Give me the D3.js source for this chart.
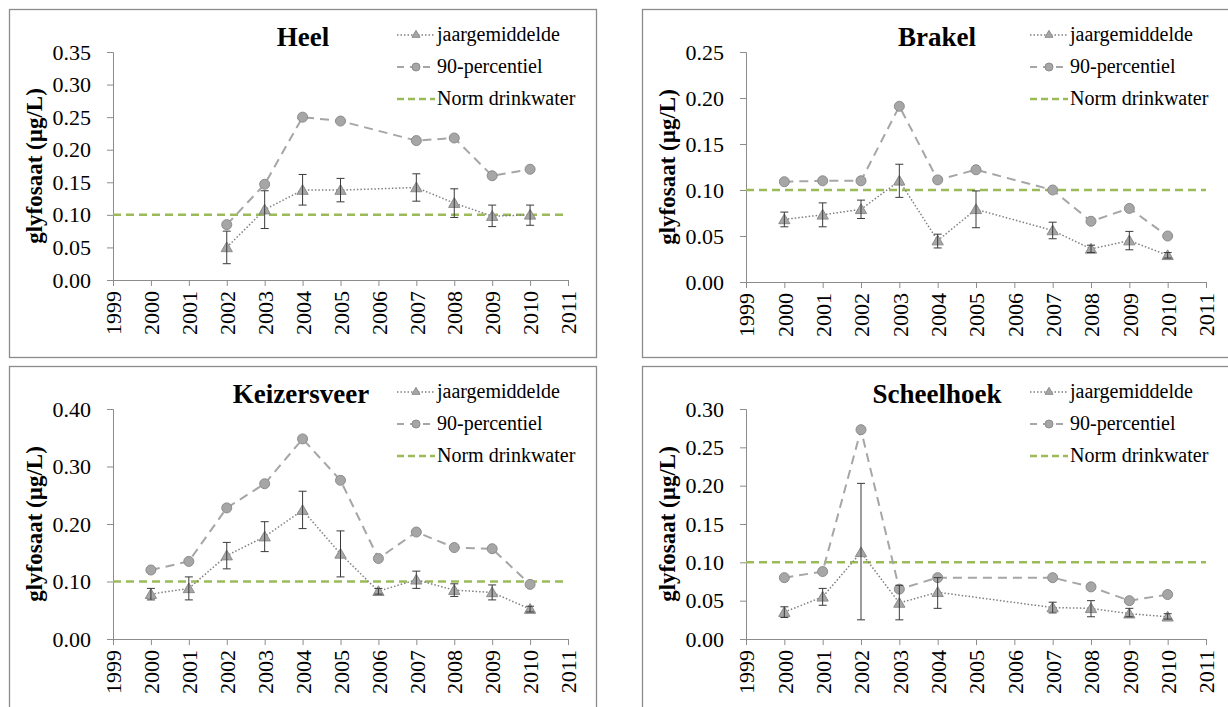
<!DOCTYPE html>
<html lang="nl">
<head>
<meta charset="UTF-8">
<title>Glyfosaat</title>
<script src="https://d3js.org/d3.v7.min.js"></script>
<style>
  html, body { margin: 0; padding: 0; background: #fff; overflow: hidden; }
  #chart, #chart text { font-family: 'Liberation Serif', 'Times New Roman', Times, serif; fill: #000; }
</style>
</head>
<body>
<svg id="chart" width="1228" height="707"></svg>
<script>
// ---- data ----
const xYears = [1999, 2000, 2001, 2002, 2003, 2004, 2005, 2006, 2007, 2008, 2009, 2010, 2011];
const legendLabels = ["jaargemiddelde", "90-percentiel", "Norm drinkwater"];
const normValue = 0.1;
const yLabel = "glyfosaat (µg/L)";

// Heel
const heelYears = [2002, 2003, 2004, 2005, 2007, 2008, 2009, 2010];
const heelMean  = [0.050, 0.108, 0.138, 0.138, 0.142, 0.118, 0.098, 0.100];
const heelLow   = [0.025, 0.079, 0.115, 0.120, 0.121, 0.096, 0.082, 0.084];
const heelHigh  = [0.075, 0.137, 0.162, 0.156, 0.163, 0.140, 0.115, 0.115];
const heelP90   = [0.085, 0.147, 0.250, 0.244, 0.214, 0.218, 0.160, 0.170];
const heelTicks = [0, 0.05, 0.10, 0.15, 0.20, 0.25, 0.30, 0.35];

// Brakel
const brakelYears = [2000, 2001, 2002, 2003, 2004, 2005, 2007, 2008, 2009, 2010];
const brakelMean  = [0.068, 0.073, 0.079, 0.110, 0.045, 0.079, 0.056, 0.036, 0.045, 0.029];
const brakelLow   = [0.060, 0.060, 0.069, 0.092, 0.037, 0.059, 0.047, 0.032, 0.035, 0.026];
const brakelHigh  = [0.076, 0.086, 0.089, 0.128, 0.052, 0.099, 0.065, 0.040, 0.055, 0.032];
const brakelP90   = [0.109, 0.110, 0.110, 0.191, 0.111, 0.122, 0.100, 0.066, 0.080, 0.050];
const brakelTicks = [0, 0.05, 0.10, 0.15, 0.20, 0.25];

// Keizersveer
const keizYears = [2000, 2001, 2002, 2003, 2004, 2005, 2006, 2007, 2008, 2009, 2010];
const keizMean  = [0.078, 0.088, 0.145, 0.178, 0.224, 0.148, 0.083, 0.103, 0.085, 0.081, 0.052];
const keizLow   = [0.068, 0.068, 0.122, 0.152, 0.192, 0.108, 0.078, 0.088, 0.074, 0.068, 0.047];
const keizHigh  = [0.088, 0.108, 0.168, 0.204, 0.257, 0.188, 0.088, 0.118, 0.096, 0.094, 0.057];
const keizP90   = [0.120, 0.135, 0.228, 0.270, 0.348, 0.276, 0.140, 0.186, 0.159, 0.157, 0.095];
const keizTicks = [0, 0.10, 0.20, 0.30, 0.40];

// Scheelhoek
const scheelYears = [2000, 2001, 2002, 2003, 2004, 2007, 2008, 2009, 2010];
const scheelMean  = [0.035, 0.055, 0.113, 0.047, 0.061, 0.041, 0.040, 0.033, 0.029];
const scheelLow   = [0.028, 0.044, 0.025, 0.025, 0.040, 0.034, 0.029, 0.029, 0.026];
const scheelHigh  = [0.042, 0.066, 0.203, 0.070, 0.080, 0.048, 0.050, 0.040, 0.033];
const scheelP90   = [0.080, 0.088, 0.273, 0.065, 0.080, 0.080, 0.068, 0.050, 0.058];
const scheelTicks = [0, 0.05, 0.10, 0.15, 0.20, 0.25, 0.30];

// ---- layout ----
const panels = [
  { title: "Heel", years: heelYears, mean: heelMean, low: heelLow, high: heelHigh, p90: heelP90, ticks: heelTicks,
    box: [9, 9, 587, 348], plot: [113, 568, 52, 280], titleX: 303 },
  { title: "Brakel", years: brakelYears, mean: brakelMean, low: brakelLow, high: brakelHigh, p90: brakelP90, ticks: brakelTicks,
    box: [642, 9, 600, 348], plot: [746, 1206, 52, 282], titleX: 937 },
  { title: "Keizersveer", years: keizYears, mean: keizMean, low: keizLow, high: keizHigh, p90: keizP90, ticks: keizTicks,
    box: [9, 366, 587, 360], plot: [113, 568, 409, 639], titleX: 301 },
  { title: "Scheelhoek", years: scheelYears, mean: scheelMean, low: scheelLow, high: scheelHigh, p90: scheelP90, ticks: scheelTicks,
    box: [642, 366, 600, 360], plot: [746, 1206, 409, 639], titleX: 937 }
];

const FONT = "'Liberation Serif', 'Times New Roman', Times, serif";
const svg = d3.select("#chart").attr("font-family", FONT);
const axisColor = "#8c8c8c";
const markFill = "#a6a6a6", markStroke = "#8c8c8c";
const green = "#9bbb59";

function txt(sel, size, bold) {
  return sel.attr("font-family", FONT).style("font-family", FONT)
    .style("font-size", size + "px").style("font-weight", bold ? "bold" : "normal");
}

panels.forEach(p => {
  const [bx, by, bw, bh] = p.box;
  const [x0, x1, y0, y1] = p.plot;
  const g = svg.append("g");

  // panel frame
  g.append("rect").attr("x", bx + 0.5).attr("y", by + 0.5).attr("width", bw).attr("height", bh)
    .attr("fill", "#fff").attr("stroke", "#8c8c8c").attr("stroke-width", 1.3);

  const x = d3.scaleLinear().domain([xYears[0], xYears[xYears.length - 1]]).range([x0, x1]);
  const y = d3.scaleLinear().domain([0, p.ticks[p.ticks.length - 1]]).range([y1, y0]);

  // y axis
  const ya = g.append("g").attr("transform", `translate(${x0},0)`)
    .call(d3.axisLeft(y).tickValues(p.ticks).tickFormat(d3.format(".2f")).tickSize(6).tickPadding(16));
  ya.attr("font-family", null).attr("font-size", null);
  ya.selectAll("path, line").attr("stroke", axisColor);
  txt(ya.selectAll("text"), 22, false);

  // x axis
  const xa = g.append("g").attr("transform", `translate(0,${y1})`)
    .call(d3.axisBottom(x).tickValues(xYears).tickFormat(d3.format("d")).tickSize(6).tickSizeOuter(0));
  xa.attr("font-family", null).attr("font-size", null);
  xa.selectAll("path, line").attr("stroke", axisColor);
  txt(xa.selectAll("text"), 22, false)
    .attr("transform", "rotate(-90)")
    .attr("x", -11).attr("y", 0).attr("dy", "0.35em")
    .attr("text-anchor", "end");

  // y label
  txt(g.append("text"), 23, true)
    .attr("transform", `translate(${x0 - 79},${(y0 + y1) / 2}) rotate(-90)`)
    .attr("text-anchor", "middle").attr("dy", "0.35em")
    .text(yLabel);

  // title
  txt(g.append("text"), 27, true)
    .attr("x", p.titleX).attr("y", by + 28)
    .attr("text-anchor", "middle").attr("dy", "0.35em")
    .text(p.title);

  // norm line
  g.append("line").attr("x1", x0).attr("x2", x1).attr("y1", y(normValue)).attr("y2", y(normValue))
    .attr("stroke", green).attr("stroke-width", 2.5).attr("stroke-dasharray", "8,5");

  const pts = p.years.map((yr, i) => ({ yr, mean: p.mean[i], low: p.low[i], high: p.high[i], p90: p.p90[i] }));

  // 90-percentiel line
  g.append("path").datum(pts)
    .attr("d", d3.line().x(d => x(d.yr)).y(d => y(d.p90)))
    .attr("fill", "none").attr("stroke", markFill).attr("stroke-width", 2)
    .attr("stroke-dasharray", "9,6");

  // jaargemiddelde line
  g.append("path").datum(pts)
    .attr("d", d3.line().x(d => x(d.yr)).y(d => y(d.mean)))
    .attr("fill", "none").attr("stroke", "#808080").attr("stroke-width", 1.5)
    .attr("stroke-dasharray", "1.5,2");

  g.selectAll(".p90").data(pts).join("circle")
    .attr("cx", d => x(d.yr)).attr("cy", d => y(d.p90)).attr("r", 5)
    .attr("fill", markFill).attr("stroke", markStroke).attr("stroke-width", 1);

  const tri = d3.symbol().type(d3.symbolTriangle).size(55);
  g.selectAll(".mean").data(pts).join("path")
    .attr("transform", d => `translate(${x(d.yr)},${y(d.mean) + 1})`)
    .attr("d", tri).attr("fill", markFill).attr("stroke", markStroke).attr("stroke-width", 1);

  // error bars
  const eb = g.selectAll(".err").data(pts).join("g").attr("stroke", "#3a3a3a").attr("stroke-width", 1);
  eb.append("line").attr("x1", d => x(d.yr)).attr("x2", d => x(d.yr))
    .attr("y1", d => y(d.low)).attr("y2", d => y(d.high));
  eb.append("line").attr("x1", d => x(d.yr) - 4).attr("x2", d => x(d.yr) + 4)
    .attr("y1", d => y(d.low)).attr("y2", d => y(d.low));
  eb.append("line").attr("x1", d => x(d.yr) - 4).attr("x2", d => x(d.yr) + 4)
    .attr("y1", d => y(d.high)).attr("y2", d => y(d.high));

  // legend
  const lx = x0 + 284, ly = by + 26;
  const leg = g.append("g").attr("transform", `translate(${lx},${ly})`);
  legendLabels.forEach((lab, i) => {
    const row = leg.append("g").attr("transform", `translate(0,${i * 32})`);
    if (i === 0) {
      row.append("line").attr("x1", 0).attr("x2", 38).attr("stroke", "#808080")
        .attr("stroke-width", 1.5).attr("stroke-dasharray", "1.5,2");
      row.append("path").attr("transform", "translate(19,0)")
        .attr("d", d3.symbol().type(d3.symbolTriangle).size(28))
        .attr("fill", markFill).attr("stroke", markStroke);
    } else if (i === 1) {
      row.append("line").attr("x1", 0).attr("x2", 38).attr("stroke", markFill)
        .attr("stroke-width", 2).attr("stroke-dasharray", "7,6");
      row.append("circle").attr("cx", 19).attr("r", 4).attr("fill", markFill).attr("stroke", markStroke);
    } else {
      row.append("line").attr("x1", 0).attr("x2", 38).attr("stroke", green)
        .attr("stroke-width", 2.5).attr("stroke-dasharray", "7,4");
    }
    txt(row.append("text"), 20, false).attr("x", 40).attr("dy", "0.32em").text(lab);
  });
});
</script>
</body>
</html>
